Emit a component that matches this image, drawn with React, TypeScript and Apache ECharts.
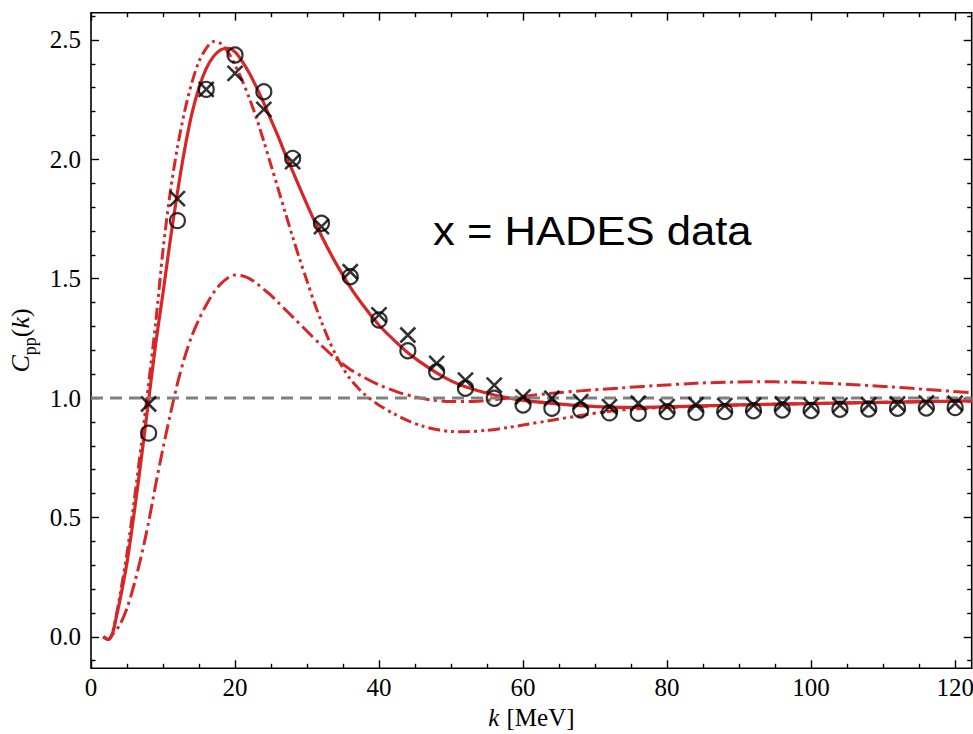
import React, { useEffect, useRef } from 'react';
import * as echarts from 'echarts';

// ---- axis extents & ticks ----
const X_MIN = 0;
const X_MAX = 122.3;
const Y_MIN = -0.132;
const Y_MAX = 2.614;
const xMajorTicks = [0, 20, 40, 60, 80, 100, 120];
const xMinorTicks = [5, 10, 15, 25, 30, 35, 45, 50, 55, 65, 70, 75, 85, 90, 95, 105, 110, 115];
const yMajorTicks = [0, 0.5, 1.0, 1.5, 2.0, 2.5];
const yMinorTicks = [-0.1, 0.1, 0.2, 0.3, 0.4, 0.6, 0.7, 0.8, 0.9, 1.1, 1.2, 1.3, 1.4, 1.6, 1.7, 1.8, 1.9, 2.1, 2.2, 2.3, 2.4, 2.6];

// ---- data points (circles and crosses) ----
const dataK = [8, 12, 16, 20, 24, 28, 32, 36, 40, 44, 48, 52, 56, 60, 64, 68, 72, 76, 80, 84, 88, 92, 96, 100, 104, 108, 112, 116, 120];
const circleVals = [0.853, 1.743, 2.293, 2.437, 2.283, 2.004, 1.732, 1.508, 1.327, 1.198, 1.11, 1.041, 0.999, 0.971, 0.957, 0.95, 0.938, 0.936, 0.943, 0.94, 0.943, 0.947, 0.95, 0.948, 0.953, 0.954, 0.957, 0.958, 0.96];
const crossVals = [0.975, 1.835, 2.293, 2.36, 2.209, 1.99, 1.718, 1.529, 1.348, 1.264, 1.145, 1.075, 1.054, 1.005, 0.999, 0.985, 0.964, 0.978, 0.964, 0.972, 0.968, 0.97, 0.975, 0.968, 0.97, 0.972, 0.975, 0.98, 0.978];

// ---- model curves ----
const solidK = [1.7, 2.4, 3, 3.5, 4, 5, 6, 7, 8, 9, 10, 11, 12, 13, 14, 15, 16, 17, 18, 19, 20, 21, 22, 23, 24, 25, 26, 27, 28, 30, 32, 34, 36, 38, 40, 42, 44, 46, 48, 50, 52, 55, 58, 60, 64, 68, 72, 76, 80, 85, 90, 100, 110, 122.3];
const solidC = [0, -0.011, 0.015, 0.08, 0.15, 0.31, 0.52, 0.75, 0.99, 1.23, 1.44, 1.66, 1.86, 2.04, 2.19, 2.3, 2.38, 2.43, 2.458, 2.465, 2.45, 2.41, 2.36, 2.3, 2.235, 2.165, 2.095, 2.02, 1.95, 1.81, 1.68, 1.565, 1.465, 1.38, 1.305, 1.245, 1.19, 1.145, 1.105, 1.072, 1.047, 1.02, 1.0, 0.99, 0.978, 0.968, 0.962, 0.961, 0.963, 0.967, 0.971, 0.977, 0.982, 0.988];

const ddotK = [1.7, 2.4, 3, 4, 5, 6, 7, 8, 9, 10, 11, 12, 13, 14, 15, 16, 17, 18, 19, 20, 21, 22, 23, 24, 25, 26, 27, 28, 29, 30, 31, 32, 33, 34, 35, 36, 37, 38, 40, 42, 44, 46, 48, 50, 52, 55, 58, 60, 64, 68, 72, 76, 80, 85, 90, 100, 110, 122.3];
const ddotC = [0, -0.011, 0.02, 0.17, 0.35, 0.57, 0.81, 1.06, 1.32, 1.62, 1.86, 2.05, 2.2, 2.32, 2.41, 2.465, 2.493, 2.485, 2.45, 2.395, 2.33, 2.255, 2.17, 2.075, 1.975, 1.875, 1.775, 1.675, 1.58, 1.49, 1.4, 1.32, 1.245, 1.18, 1.125, 1.08, 1.045, 1.015, 0.97, 0.935, 0.905, 0.883, 0.868, 0.86, 0.859, 0.865, 0.877, 0.887, 0.907, 0.927, 0.945, 0.955, 0.961, 0.966, 0.971, 0.977, 0.982, 0.987];

const dashDotK = [1.7, 2.4, 3, 4, 5, 6, 7, 8, 9, 10, 11, 12, 13, 14, 15, 16, 17, 18, 19, 20, 21, 22, 23, 24, 25, 26, 27, 28, 30, 32, 34, 36, 38, 40, 42.5, 45, 47, 50, 53, 55, 58, 60, 64, 68, 73.5, 80, 84, 88, 92.5, 97, 102, 106, 111, 116, 122.3];
const dashDotC = [0, -0.011, 0.01, 0.05, 0.12, 0.22, 0.34, 0.48, 0.64, 0.79, 0.93, 1.06, 1.17, 1.26, 1.33, 1.39, 1.44, 1.478, 1.503, 1.515, 1.512, 1.5, 1.48, 1.455, 1.43, 1.4, 1.37, 1.34, 1.28, 1.22, 1.165, 1.12, 1.085, 1.055, 1.026, 1.005, 0.993, 0.985, 0.986, 0.99, 1.0, 1.007, 1.02, 1.03, 1.042, 1.055, 1.062, 1.066, 1.068, 1.067, 1.062, 1.056, 1.047, 1.036, 1.022];

const refLineK = [X_MIN, X_MAX];
const refLineC = [1.0, 1.0];

const annotation = 'x = HADES data';

const RED = '#d62728';
const SERIF = '"Liberation Serif", "DejaVu Serif", serif';
const SANS = '"Liberation Sans", Arial, sans-serif';

const pairs = (ks: number[], vs: number[]) => ks.map((k, i) => [k, vs[i]]);

function tickAxis(kind: 'x' | 'y', position: string, values: number[], length: number, labels: boolean, extra: any = {}) {
  const isX = kind === 'x';
  return {
    type: 'value',
    gridIndex: 0,
    position,
    min: isX ? X_MIN : Y_MIN,
    max: isX ? X_MAX : Y_MAX,
    axisLine: { show: false, onZero: false },
    splitLine: { show: false },
    axisTick: {
      show: true,
      inside: true,
      length,
      customValues: values,
      lineStyle: { color: '#000', width: 1.4 },
    },
    axisLabel: labels
      ? {
          show: true,
          customValues: values,
          color: '#000',
          fontFamily: SERIF,
          fontSize: 25,
          margin: isX ? 7 : 10,
          formatter: (v: number) => (isX ? String(Math.round(v)) : v.toFixed(1)),
        }
      : { show: false },
    ...extra,
  };
}

export default function App() {
  const ref = useRef<HTMLDivElement>(null);

  useEffect(() => {
    if (!ref.current) return;
    const chart = echarts.init(ref.current, null, { renderer: 'svg' });

    const option: any = {
      animation: false,
      backgroundColor: '#ffffff',
      grid: {
        left: 91,
        right: 1.3,
        top: 12.7,
        bottom: 65.7,
        show: true,
        borderColor: '#000',
        borderWidth: 1.6,
        backgroundColor: 'transparent',
        containLabel: false,
        outerBoundsMode: 'none',
      },
      xAxis: [
        tickAxis('x', 'bottom', xMajorTicks, 8, true, {
          name: '{i|k}{n| [MeV]}',
          nameLocation: 'middle',
          nameGap: 36,
          nameTextStyle: {
            rich: {
              i: { fontFamily: SERIF, fontSize: 25, fontStyle: 'italic', color: '#000', padding: [0, 1, 0, 0] },
              n: { fontFamily: SERIF, fontSize: 25, color: '#000' },
            },
          },
        }),
        tickAxis('x', 'bottom', xMinorTicks, 4.5, false),
        tickAxis('x', 'top', xMajorTicks, 8, false),
        tickAxis('x', 'top', xMinorTicks, 4.5, false),
      ],
      yAxis: [
        tickAxis('y', 'left', yMajorTicks, 8, true, {
          name: '{i|C}{s|pp}{n|(}{i|k}{n|)}',
          nameLocation: 'middle',
          nameRotate: 90,
          nameGap: 46,
          nameTextStyle: {
            rich: {
              i: { fontFamily: SERIF, fontSize: 26, fontStyle: 'italic', color: '#000', verticalAlign: 'bottom', padding: [0, 0, 5, 0] },
              n: { fontFamily: SERIF, fontSize: 26, color: '#000', verticalAlign: 'bottom', padding: [0, 0, 5, 0] },
              s: { fontFamily: SERIF, fontSize: 18, color: '#000', verticalAlign: 'bottom' },
            },
          },
        }),
        tickAxis('y', 'left', yMinorTicks, 4.5, false),
        tickAxis('y', 'right', yMajorTicks, 8, false),
        tickAxis('y', 'right', yMinorTicks, 4.5, false),
      ],
      series: [
        {
          type: 'line',
          name: 'dash-dot',
          data: pairs(dashDotK, dashDotC),
          showSymbol: false,
          smooth: 0.3,
          lineStyle: { color: RED, width: 3, type: [15, 4.5, 3, 4.5] },
          z: 2,
        },
        {
          type: 'line',
          name: 'dash-dot-dot',
          data: pairs(ddotK, ddotC),
          showSymbol: false,
          smooth: 0.3,
          lineStyle: { color: RED, width: 3, type: [12, 4, 3, 4, 3, 4] },
          z: 2,
        },
        {
          type: 'line',
          name: 'full',
          data: pairs(solidK, solidC),
          showSymbol: false,
          smooth: 0.3,
          lineStyle: { color: RED, width: 3.2, type: 'solid' },
          z: 2,
        },
        {
          type: 'line',
          name: 'unity',
          data: pairs(refLineK, refLineC),
          showSymbol: false,
          lineStyle: { color: '#808080', width: 3, type: [12, 7] },
          z: 3,
        },
        {
          type: 'scatter',
          name: 'circles',
          data: pairs(dataK, circleVals),
          symbol: 'circle',
          symbolSize: 15,
          itemStyle: { color: 'rgba(0,0,0,0)', borderColor: '#000', borderWidth: 2.2 },
          z: 4,
        },
        {
          type: 'scatter',
          name: 'crosses',
          data: pairs(dataK, crossVals),
          symbol: 'path://M0,0L10,10M10,0L0,10',
          symbolSize: 15,
          itemStyle: { color: 'none', borderColor: '#000', borderWidth: 2.6 },
          z: 5,
        },
      ],
      graphic: [
        {
          type: 'text',
          x: 433,
          y: 231,
          scaleX: 1.09,
          style: {
            text: annotation,
            fontFamily: SANS,
            fontSize: 40,
            fill: '#000',
            align: 'left',
            verticalAlign: 'middle',
          },
          z: 10,
        },
      ],
    };

    chart.setOption(option);
    return () => chart.dispose();
  }, []);

  return (
    <div
      ref={ref}
      style={{ position: 'fixed', left: 0, top: 0, width: 973, height: 734, background: '#fff' }}
    />
  );
}
